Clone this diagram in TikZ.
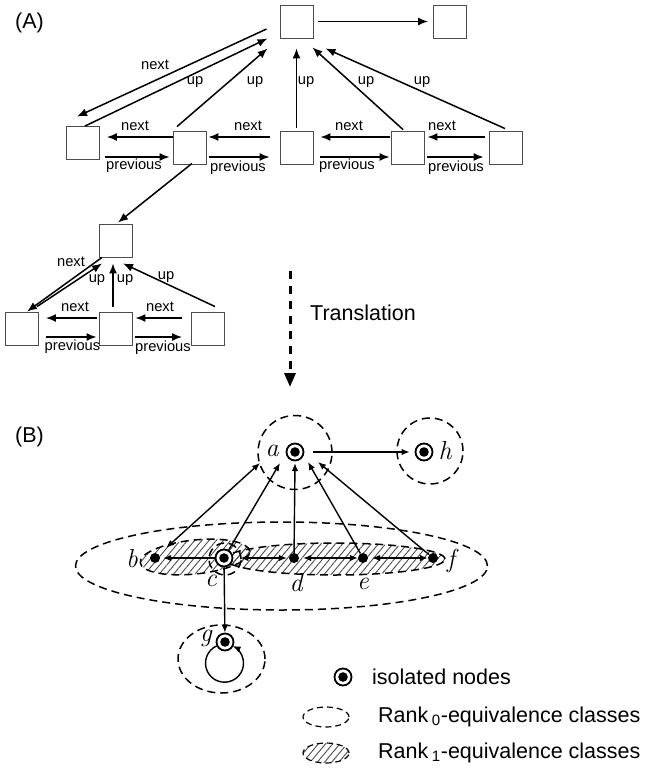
\documentclass[tikz,border=0pt]{standalone}
\usepackage{fontspec}
\setmainfont{Liberation Sans}
\newfontfamily\lmroman{Latin Modern Roman}
\usetikzlibrary{arrows.meta,patterns.meta}

\begin{document}
\begin{tikzpicture}[x=1pt,y=-1pt,
  box/.style={draw=black!70,line width=0.9pt,minimum size=33pt,inner sep=0pt,fill=white},
  arr/.style={line width=1.5pt,-{Latex[length=10pt,width=8pt]}},
  lbl/.style={font=\fontsize{14.7}{16}\selectfont,inner sep=0pt},
  big/.style={font=\fontsize{21.5}{24}\selectfont,inner sep=0pt},
  mlbl/.style={font=\lmroman\itshape\fontsize{26}{28}\selectfont,inner sep=0pt},
  dotnode/.style={circle,fill,minimum size=10pt,inner sep=0pt},
  iso/.style={circle,draw,line width=1.8pt,fill=white,minimum size=17pt,inner sep=0pt,
    path picture={\fill[black] (path picture bounding box.center) circle[radius=4.8pt];}},
  edge/.style={line width=1.4pt,-{Latex[length=8pt,width=6.5pt]}},
  dedge/.style={line width=1.4pt,{Latex[length=8pt,width=6.5pt]}-{Latex[length=8pt,width=6.5pt]}},
  eqcls/.style={draw,line width=1.5pt,dash pattern=on 8pt off 5pt},
  hatch/.style={pattern={Lines[angle=50,distance=5.5pt,line width=0.9pt]},pattern color=black!70}]
\useasboundingbox (0,0) rectangle (649,781);

% ---------------- (A) linked tree ----------------
\node[big] (labA) at (29.5,23) {(A)};

\node[box] (T)  at (296.5,21.5) {};
\node[box] (TR) at (450,21.5) {};
\node[box] (L1) at (83,143) {};
\node[box] (L2) at (190,148) {};
\node[box] (M)  at (296.5,148) {};
\node[box] (R1) at (407.5,148) {};
\node[box] (R2) at (505.5,148) {};
\node[box] (S)  at (115.5,240.5) {};
\node[box] (B1) at (22,328.5) {};
\node[box] (B2) at (115.5,328.5) {};
\node[box] (B3) at (208,328.5) {};

% top level
\draw[arr] ([xshift=5pt]T.east) -- ([xshift=-5pt]TR.west);
\draw[arr] ([shift={(-13pt,-7.5pt)}]T.west) -- ([shift={(-6pt,9.5pt)}]L1.north);
\draw[arr] ([xshift=2pt]L1.north) -- ([xshift=-12pt]T.south west);
\draw[arr] ([shift={(-13pt,4.5pt)}]L2.north) -- ([shift={(-12pt,-10pt)}]T.south west);
\draw[arr] ([yshift=3pt]M.north) -- ([yshift=-10pt]T.south);
\draw[arr] ([shift={(-4.5pt,1.5pt)}]R1.north) -- ([shift={(-1pt,-9pt)}]T.south east);
\draw[arr] ([shift={(-0.5pt,2.5pt)}]R2.north) -- ([shift={(12pt,-10pt)}]T.south east);

\node[lbl] at (155,65) {next};
\node[lbl] at (195,82) {up};
\node[lbl] at (255,82) {up};
\node[lbl] at (306,82) {up};
\node[lbl] at (366,82) {up};
\node[lbl] at (422,82) {up};

% second row siblings
\draw[arr] ([yshift=11pt]L2.west) -- ([shift={(7pt,6pt)}]L1.east);
\draw[arr] ([shift={(5.5pt,-14pt)}]L1.east) -- ([shift={(-3.5pt,-9pt)}]L2.west);
\draw[arr] ([shift={(-10pt,11pt)}]M.west) -- ([shift={(1.5pt,11pt)}]L2.east);
\draw[arr] ([shift={(2.5pt,-9pt)}]L2.east) -- ([shift={(-10pt,-9pt)}]M.west);
\draw[arr] ([shift={(-1pt,11pt)}]R1.west) -- ([shift={(7pt,11pt)}]M.east);
\draw[arr] ([shift={(7pt,-9pt)}]M.east) -- ([shift={(-1pt,-9pt)}]R1.west);
\draw[arr] ([shift={(-4pt,11pt)}]R2.west) -- ([shift={(3pt,11pt)}]R1.east);
\draw[arr] ([shift={(3pt,-9pt)}]R1.east) -- ([shift={(-5pt,-9pt)}]R2.west);

\node[lbl] at (135,126) {next};
\node[lbl] at (248,126) {next};
\node[lbl] at (349,126) {next};
\node[lbl] at (442,126) {next};
\node[lbl] at (134,166) {previous};
\node[lbl] at (238,168) {previous};
\node[lbl] at (347,166) {previous};
\node[lbl] at (456,168) {previous};

% subtree
\draw[arr] ([shift={(2pt,1.5pt)}]L2.south) -- ([shift={(2.5pt,1pt)}]S.north);
\draw[arr] ([xshift=-13.5pt]S.south) -- ([xshift=5pt]B1.north);
\draw[arr] ([shift={(15pt,5pt)}]B1.north) -- ([shift={(-13.5pt,-6pt)}]S.south);
\draw[arr] ([shift={(-2.5pt,5pt)}]B2.north) -- ([shift={(-2.5pt,-6pt)}]S.south);
\draw[arr] ([shift={(7pt,5pt)}]B3.north) -- ([shift={(7.5pt,-6pt)}]S.south);
\draw[arr] ([shift={(-2pt,10.5pt)}]B2.west) -- ([shift={(7pt,10.5pt)}]B1.east);
\draw[arr] ([shift={(7pt,-8.5pt)}]B1.east) -- ([shift={(-2pt,-8.5pt)}]B2.west);
\draw[arr] ([shift={(-9pt,10.5pt)}]B3.west) -- ([shift={(3pt,10.5pt)}]B2.east);
\draw[arr] ([shift={(3pt,-8.5pt)}]B2.east) -- ([shift={(-9pt,-8.5pt)}]B3.west);

\node[lbl] at (71,262) {next};
\node[lbl] at (97,280) {up};
\node[lbl] at (125,280) {up};
\node[lbl] at (166,277) {up};
\node[lbl] at (75,307) {next};
\node[lbl] at (160,307) {next};
\node[lbl] at (72.5,347) {previous};
\node[lbl] at (163,348) {previous};

% translation arrow
\coordinate (ts) at (290,271);
\coordinate (te) at (290,387);
\draw[line width=3pt,dash pattern=on 8pt off 7pt,-{Triangle[length=14pt,width=11pt]}] (ts) -- (te);
\node[big,anchor=west] (trans) at (310,313) {Translation};

% ---------------- (B) equivalence classes ----------------
\node[big] (labB) at (29.5,437) {(B)};

% rank-0 classes
\draw[eqcls] (281.5,566) ellipse[x radius=206pt,y radius=44pt];
\draw[eqcls] (295,452.5) circle[radius=37pt];
\draw[eqcls] (430,451) circle[radius=33pt];
\draw[eqcls] (221.5,659) ellipse[x radius=43.5pt,y radius=34pt];

% rank-1 classes
\draw[eqcls,hatch,rotate around={6:(195,557)}] (195,557) ellipse[x radius=55pt,y radius=17pt];
\draw[eqcls,hatch] (335,559) ellipse[x radius=110pt,y radius=16pt];
\draw[eqcls] (225,559) circle[radius=16pt];

% nodes
\node[iso] (a) at (295,452) {};
\node[iso] (h) at (424,452) {};
\node[dotnode] (b) at (155,558) {};
\node[iso] (c) at (224,558) {};
\node[dotnode] (d) at (294,558) {};
\node[dotnode] (e) at (363,558) {};
\node[dotnode] (f) at (433,558) {};
\node[iso] (g) at (225,642) {};

\node[mlbl] at (272,451) {a};
\node[mlbl] at (445,451) {h};
\node[mlbl] at (132,559) {b};
\node[mlbl] at (211,581) {c};
\node[mlbl] at (296,583) {d};
\node[mlbl] at (363,584) {e};
\node[mlbl] at (451,561) {f};
\node[mlbl] at (206,638) {g};

% edges
\draw[dedge,shorten <=10pt] (b) -- ([shift={(-35pt,-11pt)}]a.center);
\draw[edge] (c) -- ([shift={(-15pt,-11pt)}]a.center);
\draw[edge] (d) -- ([shift={(0pt,-11pt)}]a.center);
\draw[edge] (e) -- ([shift={(13pt,-10pt)}]a.center);
\draw[edge] (f) -- ([shift={(23pt,-10pt)}]a.center);
\draw[edge,shorten <=9pt,shorten >=5pt] (a) -- (h);
\draw[edge,shorten >=3pt] (c) -- (b);
\draw[dedge,shorten <=7pt,shorten >=2pt] (c) -- (d);
\draw[dedge,shorten <=4pt] (d) -- (e);
\draw[dedge,shorten <=4pt] (e) -- (f);
\draw[edge] (c) -- (g);
\draw[edge] (g.205) arc[start angle=115,end angle=425,radius=19pt];

% legend
\node[iso] (legiso) at (343,677) {};
\node[big,anchor=west] (legisotxt) at (372,677) {isolated nodes};
\draw[eqcls,line width=1.2pt,dash pattern=on 6pt off 4pt] (326,717) ellipse[x radius=23pt,y radius=10pt];
\node[big,anchor=west] (legr0) at (378,717) {Rank\,\textsubscript{0}-equivalence classes};
\draw[eqcls,hatch,line width=1.2pt,dash pattern=on 6pt off 4pt] (326,753) ellipse[x radius=23pt,y radius=10pt];
\node[big,anchor=west] (legr1) at (378,753) {Rank\,\textsubscript{1}-equivalence classes};
\end{tikzpicture}
\end{document}
